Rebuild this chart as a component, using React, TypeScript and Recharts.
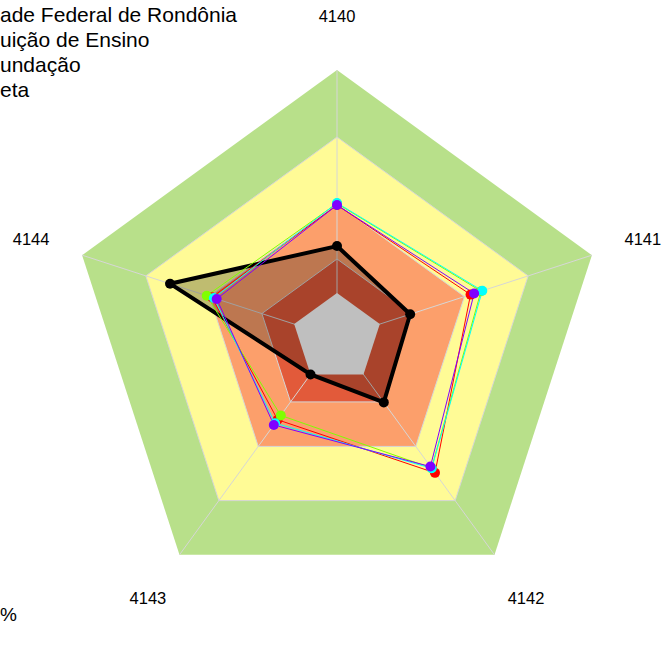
import React from "react";
import { RadarChart, Radar, PolarGrid, PolarAngleAxis, PolarRadiusAxis } from "recharts";

const axes = ["4140", "4141", "4142", "4143", "4144"];
const unir = [49.6, 52.4, 62.2, 37.7, 49.1];
const instituicao = [50.2, 56.5, 60.0, 35.7, 51.1];
const fundacao = [50.4, 57.0, 60.1, 39.3, 48.3];
const outra = [49.6, 53.8, 59.3, 40.1, 47.2];
const meta = [34.3, 28.7, 29.7, 16.8, 65.5];

// background bands (outer limit of each band, % of radius)
const bandLimits = [100, 75, 50, 29.5, 16.8];
const bandColors = ["#B8E08A", "#FFFB96", "#FC9F6B", "#E25A3A", "#FFFFFF"];

const legendLines = ["ade Federal de Rondônia", "uição de Ensino", "undação", "eta"];

const CX = 337;
const CY = 338;
const R = 268;

const rows = axes.map((axis, i) => {
  const row: Record<string, number | string> = {
    axis,
    unir: unir[i],
    instituicao: instituicao[i],
    fundacao: fundacao[i],
    outra: outra[i],
    meta: meta[i],
  };
  bandLimits.forEach((b, j) => (row["band" + j] = b));
  return row;
});

const AngleTick = (props: any) => {
  const { payload } = props;
  const a = (payload.coordinate * Math.PI) / 180;
  const x = CX + R * 1.2 * Math.cos(a);
  const y = CY - R * 1.2 * Math.sin(a);
  return (
    <text x={x} y={y} textAnchor="middle" dominantBaseline="central" fontSize={16.5} fill="#000" fontFamily="Liberation Sans, Arial, sans-serif">
      {payload.value}
    </text>
  );
};

const makeDot = (color: string, r: number) => (p: any) => (
  <circle key={p.key ?? p.index} cx={p.cx} cy={p.cy} r={r} fill={color} stroke="none" />
);

const series = [
  { key: "unir", color: "#FF0000" },
  { key: "instituicao", color: "#80FF00" },
  { key: "fundacao", color: "#00FFFF" },
  { key: "outra", color: "#8000FF" },
];

export default function App() {
  return (
    <div style={{ position: "absolute", left: 0, top: 0, width: 662, height: 664, background: "#fff", overflow: "hidden" }}>
      <RadarChart width={662} height={664} cx={CX} cy={CY} outerRadius={R} data={rows} margin={{ top: 0, right: 0, bottom: 0, left: 0 }}>
        {bandLimits.map((b, j) => (
          // the innermost band sits above the grid so no spokes cross it
          <Radar key={"band" + j} dataKey={"band" + j} stroke="none" fill={bandColors[j]} fillOpacity={1} dot={false} zIndex={j === 4 ? -40 : -300 + j} isAnimationActive={false} />
        ))}
        <PolarGrid gridType="polygon" polarRadius={[79, 134, 201]} stroke="#D6D6D6" strokeWidth={1} zIndex={-50} />
        <PolarAngleAxis dataKey="axis" tick={<AngleTick />} axisLine={false} tickLine={false} />
        <PolarRadiusAxis domain={[0, 100]} tick={false} axisLine={false} />
        <Radar dataKey="meta" stroke="#000" strokeWidth={4} fill="#000" fillOpacity={0.25} dot={makeDot("#000", 5)} isAnimationActive={false} />
        {series.map((s) => (
          <Radar key={s.key} dataKey={s.key} stroke={s.color} strokeWidth={1} fill="none" fillOpacity={0} dot={makeDot(s.color, 5)} isAnimationActive={false} />
        ))}
      </RadarChart>
      {legendLines.map((t, i) => (
        <div key={t} style={{ position: "absolute", left: 0, top: 2 + i * 25, fontSize: 21, lineHeight: "25px", fontFamily: "Liberation Sans, Arial, sans-serif", color: "#000", whiteSpace: "nowrap" }}>
          {t}
        </div>
      ))}
      <div style={{ position: "absolute", left: 0, top: 603, fontSize: 19, lineHeight: "24px", fontFamily: "Liberation Sans, Arial, sans-serif", color: "#000" }}>%</div>
    </div>
  );
}
